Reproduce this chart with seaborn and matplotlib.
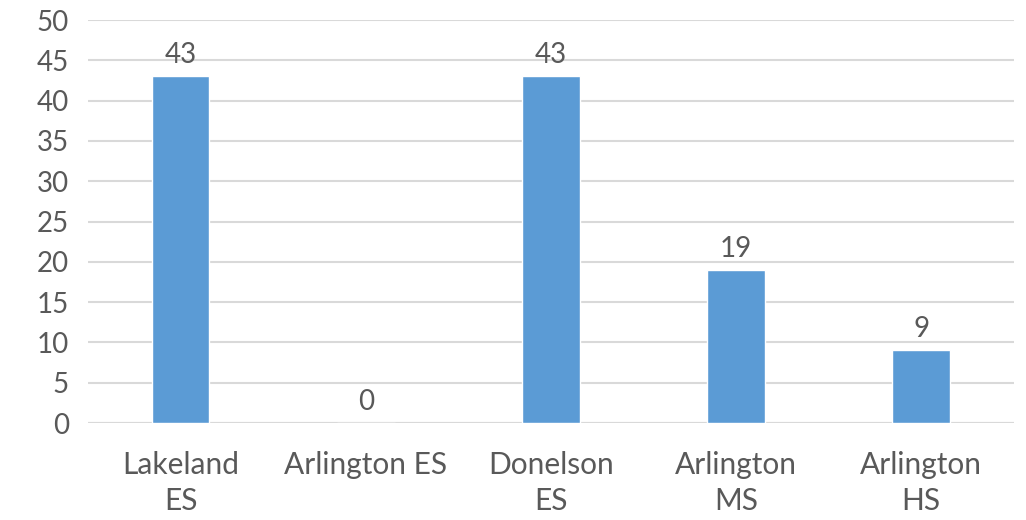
import matplotlib
matplotlib.use('Agg')
import matplotlib.pyplot as plt
import seaborn as sns
import pandas as pd

# Chart data
schools = ['Lakeland\nES', 'Arlington ES', 'Donelson\nES', 'Arlington\nMS', 'Arlington\nHS']
counts = [43, 0, 43, 19, 9]
y_ticks = [0, 5, 10, 15, 20, 25, 30, 35, 40, 45, 50]

bar_color = '#5B9BD5'
text_color = '#595959'
grid_color = '#D9D9D9'

sns.set_style('white')
plt.rcParams['font.family'] = ['Lato', 'DejaVu Sans']

df = pd.DataFrame({'school': schools, 'count': counts})

fig = plt.figure(figsize=(10.26, 5.2), dpi=100)
ax = fig.add_axes([0.086, 0.1865, 0.902, 0.775])

sns.barplot(data=df, x='school', y='count', color=bar_color, width=0.31,
            saturation=1, ax=ax, zorder=3)

# value labels above bars
for i, v in enumerate(counts):
    ax.text(i, v + 1.0, str(v), ha='center', va='bottom',
            fontsize=20, color=text_color)

ax.set_ylim(0, 50)
ax.set_xlim(-0.5, len(schools) - 0.5)
ax.set_yticks(y_ticks)
ax.yaxis.grid(True, color=grid_color, linewidth=1.5, zorder=0)
ax.set_axisbelow(True)

for s in ax.spines.values():
    s.set_visible(False)
ax.axhline(0, color=grid_color, linewidth=1.5, zorder=1)

ax.tick_params(axis='both', length=0, labelsize=20, labelcolor=text_color)
ax.tick_params(axis='x', pad=20, labelsize=21.5)
ax.tick_params(axis='y', pad=14)
for lbl in ax.get_xticklabels():
    lbl.set_linespacing(1.35)
ax.set_xlabel('')
ax.set_ylabel('')

fig.savefig('out.png', dpi=100)
